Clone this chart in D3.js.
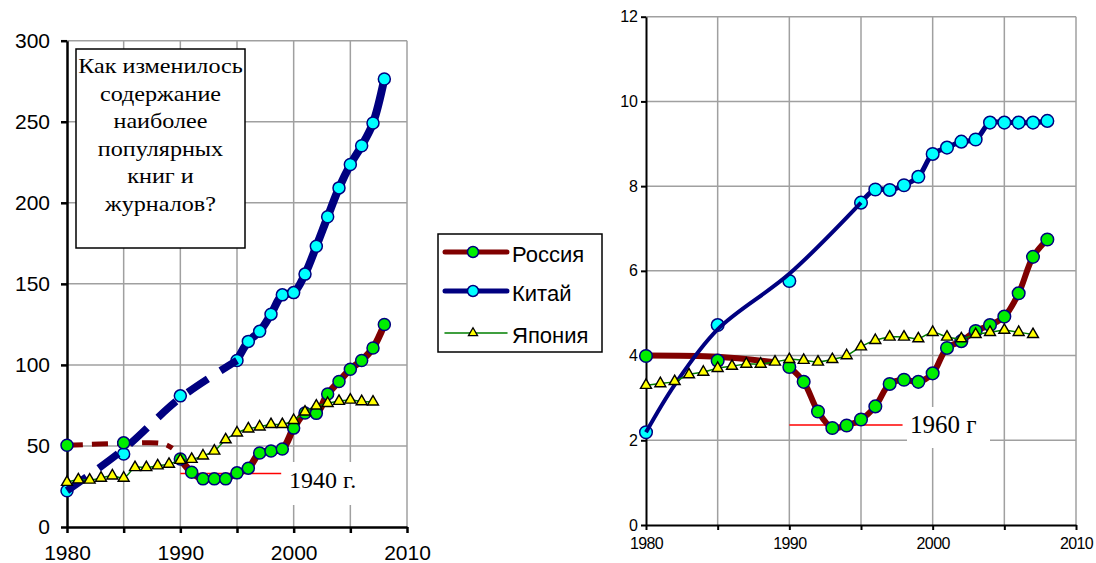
<!DOCTYPE html>
<html>
<head>
<meta charset="utf-8">
<script src="https://cdn.jsdelivr.net/npm/d3@7"></script>
<style>
body { margin: 0; background: #fff; }
svg { display: block; }
text { font-family: "Liberation Sans", Arial, sans-serif; }
.serif { font-family: "Liberation Serif", "Times New Roman", serif; }
</style>
</head>
<body>
<svg width="1096" height="563"></svg>
<script>
// --- data ---
const russiaYears = [1980, 1985, 1990, 1991, 1992, 1993, 1994, 1995, 1996, 1997, 1998, 1999, 2000, 2001, 2002, 2003, 2004, 2005, 2006, 2007, 2008];
const russiaLeft = [50.4, 51.9, 41.9, 33.8, 29.7, 29.7, 29.7, 33.4, 36.3, 45.6, 46.9, 48.1, 61, 70.3, 70.1, 82, 89.8, 97.3, 102.7, 110.4, 124.9];
const russiaRight = [3.99, 3.88, 3.73, 3.38, 2.68, 2.29, 2.35, 2.49, 2.80, 3.33, 3.43, 3.38, 3.58, 4.18, 4.34, 4.58, 4.72, 4.92, 5.47, 6.33, 6.74];

const chinaYears = [1980, 1985, 1990, 1995, 1996, 1997, 1998, 1999, 2000, 2001, 2002, 2003, 2004, 2005, 2006, 2007, 2008];
const chinaLeft = [22.4, 45, 80.9, 102.7, 114.5, 120.7, 131.3, 143.2, 144.6, 156, 173.2, 191.4, 209.2, 223.6, 235.2, 249.2, 276.4];
const chinaRight = [2.19, 4.72, 5.76, 7.61, 7.92, 7.91, 8.02, 8.22, 8.76, 8.91, 9.05, 9.10, 9.50, 9.50, 9.50, 9.50, 9.54];

const japanYears = [1980, 1981, 1982, 1983, 1984, 1985, 1986, 1987, 1988, 1989, 1990, 1991, 1992, 1993, 1994, 1995, 1996, 1997, 1998, 1999, 2000, 2001, 2002, 2003, 2004, 2005, 2006, 2007];
const japanLeft = [27.6, 29.2, 29, 30.2, 31.6, 30.2, 36.7, 36.7, 37.8, 38.8, 41.2, 41.8, 43.9, 46.9, 53.9, 58.1, 60.6, 61.8, 63.3, 63.3, 65.8, 71, 74.7, 76.3, 77.6, 78.4, 77.4, 77.2];
const japanRight = [3.30, 3.34, 3.39, 3.55, 3.61, 3.70, 3.75, 3.80, 3.80, 3.85, 3.91, 3.89, 3.85, 3.91, 4.00, 4.21, 4.36, 4.44, 4.44, 4.40, 4.55, 4.44, 4.40, 4.50, 4.55, 4.60, 4.55, 4.50];

// early-period trend curves (drawn without markers)
const russiaTrendYearsL = [1980, 1985, 1988.5, 1989.3];
const russiaTrendL = [50.4, 51.6, 51.4, 48.6];
const chinaTrendYearsL = [1980, 1985, 1990, 1995];
const chinaTrendL = [22.4, 48, 79.6, 102.7];
const russiaTrendYearsR = [1980, 1985, 1989];
const russiaTrendR = [4.0, 3.97, 3.84];
const chinaTrendYearsR = [1980, 1982, 1985, 1990, 1995];
const chinaTrendR = [2.19, 3.31, 4.62, 5.93, 7.61];

// reference levels (Russia in 1940 / 1960)
const refYearsL = [1990, 1998.9];
const refValueL = 33;
const refYearsR = [1990, 1997.9];
const refValueR = 2.36;

const gridYears = [1980, 1985, 1990, 1995, 2000, 2005, 2010];
const yTicksL = [0, 50, 100, 150, 200, 250, 300];
const yTicksR = [0, 2, 4, 6, 8, 10, 12];

const questionLines = ['Как изменилось', 'содержание', 'наиболее', 'популярных', 'книг и', 'журналов?'];
const legendNames = ['Россия', 'Китай', 'Япония'];

const svg = d3.select('svg');

const RED = '#800000', NAVY = '#000080', GREEN = '#008000';

function pairs(xs, ys) { return d3.zip(xs, ys); }

function panel(p) {
    const x = d3.scaleLinear().domain([1980, 2010]).range([p.left, p.right]);
    const y = d3.scaleLinear().domain([0, p.yMax]).range([p.bottom, p.top]);
    const g = svg.append('g');
    const line = d3.line().x(d => x(d[0])).y(d => y(d[1])).curve(d3.curveCatmullRom.alpha(0.5));

    // grid
    g.append('g').selectAll('line').data(gridYears.slice(1)).join('line')
        .attr('x1', d => x(d)).attr('x2', d => x(d))
        .attr('y1', y(0)).attr('y2', y(p.yMax))
        .attr('stroke', '#a0a0a0').attr('stroke-width', 1.5);
    g.append('g').selectAll('line').data(p.yTicks.slice(1)).join('line')
        .attr('x1', x(1980)).attr('x2', x(2010))
        .attr('y1', d => y(d)).attr('y2', d => y(d))
        .attr('stroke', '#a0a0a0').attr('stroke-width', 1.5);

    // annotation background + reference line
    g.append('rect').attr('x', p.labelBox[0]).attr('y', p.labelBox[1])
        .attr('width', p.labelBox[2]).attr('height', p.labelBox[3]).attr('fill', '#fff');
    g.append('line')
        .attr('x1', x(p.refYears[0])).attr('x2', x(p.refYears[1]))
        .attr('y1', y(p.refValue)).attr('y2', y(p.refValue))
        .attr('stroke', '#ff0000').attr('stroke-width', 1.5);
    g.append('text').attr('class', 'serif')
        .attr('x', p.labelPos[0]).attr('y', p.labelPos[1])
        .attr('font-size', p.labelSize).text(p.label);

    // axes
    const ya = g.append('g').attr('transform', `translate(${x(1980)},0)`)
        .call(d3.axisLeft(y).tickValues(p.yTicks).tickSize(p.tick).tickSizeOuter(0).tickPadding(p.yPad));
    const xa = g.append('g').attr('transform', `translate(0,${y(0)})`)
        .call(d3.axisBottom(x).tickValues(gridYears).tickFormat(d => d % 10 === 0 ? d : '')
            .tickSize(p.tick).tickSizeOuter(0).tickPadding(p.xPad));
    [ya, xa].forEach(a => {
        a.selectAll('path, line').attr('stroke', '#000').attr('stroke-width', p.axisW);
        a.selectAll('text').attr('fill', '#000').attr('font-family', '"Liberation Sans", Arial, sans-serif');
    });
    ya.selectAll('text').attr('font-size', p.yFont);
    xa.selectAll('text').attr('font-size', p.xFont).attr('letter-spacing', p.xLs);

    // lines
    g.append('path').datum(pairs(p.rTrendYears, p.rTrend)).attr('d', line)
        .attr('fill', 'none').attr('stroke', RED).attr('stroke-width', p.rTrendW)
        .attr('stroke-dasharray', p.rDash);
    g.append('path').datum(pairs(russiaYears, p.russia).slice(2)).attr('d', line)
        .attr('fill', 'none').attr('stroke', RED).attr('stroke-width', p.rW);
    g.append('path').datum(pairs(chinaYears, p.china).slice(3)).attr('d', line)
        .attr('fill', 'none').attr('stroke', NAVY).attr('stroke-width', p.cW);

    // China markers
    g.append('g').selectAll('circle').data(pairs(chinaYears, p.china)).join('circle')
        .attr('cx', d => x(d[0])).attr('cy', d => y(d[1])).attr('r', p.r)
        .attr('fill', '#00ffff').attr('stroke', NAVY).attr('stroke-width', 1.5);

    g.append('path').datum(pairs(p.cTrendYears, p.cTrend)).attr('d', line)
        .attr('fill', 'none').attr('stroke', NAVY).attr('stroke-width', p.cTrendW)
        .attr('stroke-dasharray', p.cDash);

    // Russia markers
    g.append('g').selectAll('circle').data(pairs(russiaYears, p.russia)).join('circle')
        .attr('cx', d => x(d[0])).attr('cy', d => y(d[1])).attr('r', p.r)
        .attr('fill', '#00ee00').attr('stroke', NAVY).attr('stroke-width', 1.5);

    // Japan
    g.append('path').datum(pairs(japanYears, p.japan)).attr('d', line)
        .attr('fill', 'none').attr('stroke', GREEN).attr('stroke-width', 1.5);
    g.append('g').selectAll('path').data(pairs(japanYears, p.japan)).join('path')
        .attr('transform', d => `translate(${x(d[0])},${y(d[1])})`)
        .attr('d', d3.symbol(d3.symbolTriangle, p.tri)())
        .attr('fill', '#ffff00').attr('stroke', '#000').attr('stroke-width', 1.4);
}

panel({
    left: 67, right: 407, top: 40.7, bottom: 527, yMax: 300, yTicks: yTicksL,
    tick: 6, yPad: 11, xPad: 12, axisW: 2.5, yFont: 21, xFont: 21, xLs: 0,
    russia: russiaLeft, china: chinaLeft, japan: japanLeft,
    rTrendYears: russiaTrendYearsL, rTrend: russiaTrendL, rTrendW: 5, rDash: '16,9',
    cTrendYears: chinaTrendYearsL, cTrend: chinaTrendL, cTrendW: 7.5, cDash: '24,15',
    rW: 7, cW: 8, r: 6, tri: 52,
    refYears: refYearsL, refValue: refValueL,
    labelBox: [283, 462, 80, 43], labelPos: [289, 488], labelSize: 24, label: '1940 г.'
});

panel({
    left: 646, right: 1076, top: 16.7, bottom: 525, yMax: 12, yTicks: yTicksR,
    tick: 5, yPad: 3, xPad: 8, axisW: 2, yFont: 16, xFont: 16, xLs: -0.6,
    russia: russiaRight, china: chinaRight, japan: japanRight,
    rTrendYears: russiaTrendYearsR, rTrend: russiaTrendR, rTrendW: 6, rDash: null,
    cTrendYears: chinaTrendYearsR, cTrend: chinaTrendR, cTrendW: 4, cDash: null,
    rW: 6, cW: 5, r: 6.3, tri: 52,
    refYears: refYearsR, refValue: refValueR,
    labelBox: [907, 407, 83, 41], labelPos: [910, 433], labelSize: 25, label: '1960 г'
});

// question box (text is stretched horizontally in the original)
const qb = svg.append('g');
qb.append('rect').attr('x', 76).attr('y', 49).attr('width', 169).attr('height', 199)
    .attr('fill', '#fff').attr('stroke', '#000').attr('stroke-width', 1.5);
qb.append('g').attr('transform', 'translate(160.5,0) scale(1.15,1)')
    .selectAll('text').data(questionLines).join('text').attr('class', 'serif')
    .attr('x', 0).attr('y', (d, i) => 73.5 + i * 27.5)
    .attr('text-anchor', 'middle').attr('font-size', 21).text(d => d);

// legend
const lg = svg.append('g');
lg.append('rect').attr('x', 438).attr('y', 234).attr('width', 164).attr('height', 118)
    .attr('fill', '#fff').attr('stroke', '#000').attr('stroke-width', 1.5);
const legendStyle = [
    { stroke: RED, w: 5, fill: '#00ee00', mark: 'circle' },
    { stroke: NAVY, w: 5, fill: '#00ffff', mark: 'circle' },
    { stroke: GREEN, w: 1.5, fill: '#ffff00', mark: 'tri' }
];
const legendY = [252, 291, 333];
legendNames.forEach((name, i) => {
    const s = legendStyle[i], ly = legendY[i];
    lg.append('line').attr('x1', 445).attr('x2', 507).attr('y1', ly).attr('y2', ly)
        .attr('stroke', s.stroke).attr('stroke-width', s.w).attr('stroke-linecap', 'round');
    if (s.mark === 'circle') {
        lg.append('circle').attr('cx', 473).attr('cy', ly).attr('r', 5.5)
            .attr('fill', s.fill).attr('stroke', NAVY).attr('stroke-width', 1.5);
    } else {
        lg.append('path').attr('transform', `translate(473,${ly})`)
            .attr('d', d3.symbol(d3.symbolTriangle, 36)())
            .attr('fill', s.fill).attr('stroke', '#000').attr('stroke-width', 1.3);
    }
    lg.append('text').attr('x', 512).attr('y', ly + 10).attr('font-size', 22)
        .text(name);
});
</script>
</body>
</html>
